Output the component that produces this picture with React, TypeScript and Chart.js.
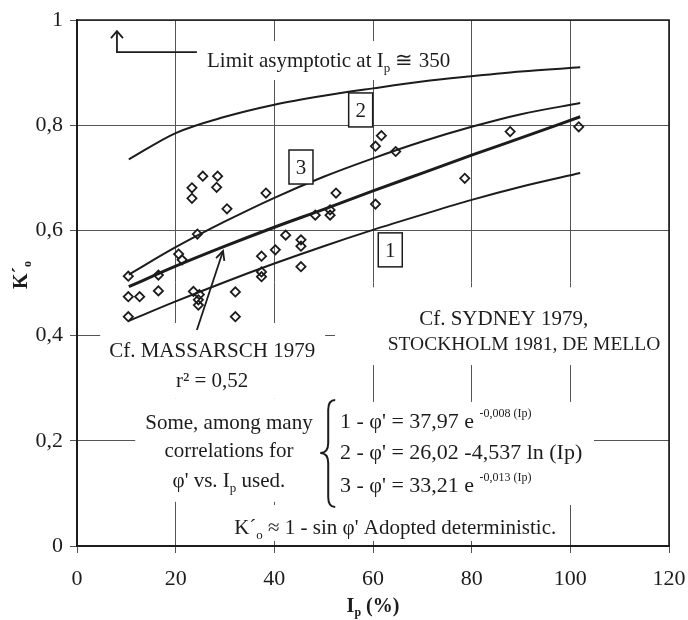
import React, { useEffect, useRef } from 'react';
import { Chart, registerables } from 'chart.js';
Chart.register(...registerables);

// ---- data ----
const pointsIp = [25.5, 28.5, 28.3, 23.3, 23.3, 30.4, 24.4, 20.6, 21.3, 10.4, 16.5, 16.5, 10.4, 12.7, 23.6, 24.8, 24.6, 24.6, 10.4, 32.1, 32.1,
  38.3, 52.5, 48.3, 51.3, 51.3, 42.3, 45.4, 45.4, 40.2, 37.4, 37.4, 37.4, 45.4,
  61.7, 60.5, 64.6, 78.6, 60.5, 87.8, 101.7];
const pointsK = [0.703, 0.703, 0.682, 0.681, 0.661, 0.641, 0.593, 0.555, 0.544, 0.513, 0.515, 0.485, 0.474, 0.474, 0.484, 0.478, 0.468, 0.458, 0.436, 0.483, 0.436,
  0.671, 0.671, 0.629, 0.639, 0.629, 0.591, 0.582, 0.570, 0.563, 0.551, 0.521, 0.512, 0.531,
  0.780, 0.760, 0.750, 0.699, 0.650, 0.788, 0.797];

const lineIp = [10.5, 20, 30, 40, 50, 60, 70, 80, 90, 102];
const curve2K = [0.735, 0.785, 0.816, 0.839, 0.856, 0.870, 0.883, 0.893, 0.902, 0.910];
const curve3K = [0.516, 0.568, 0.617, 0.662, 0.702, 0.737, 0.769, 0.797, 0.821, 0.842];
const massarschK = [0.493, 0.532, 0.570, 0.606, 0.640, 0.675, 0.709, 0.743, 0.776, 0.816];
const curve1K = [0.428, 0.465, 0.502, 0.537, 0.570, 0.601, 0.630, 0.658, 0.683, 0.709];

const xTickLabels = ['0', '20', '40', '60', '80', '100', '120'];
const yTickLabels = ['0', '0,2', '0,4', '0,6', '0,8', '1'];

// ---- styling ----
const SERIF = '"Liberation Serif", "Times New Roman", serif';
const INK = '#1c1c1c';
const BASE = 21;

type Seg = { t: string; size?: number; dy?: number; bold?: boolean };

const segFont = (s: Seg, base: number, bold?: boolean) =>
  `${s.bold || bold ? 'bold ' : ''}${s.size ?? base}px ${SERIF}`;

function lineWidth(ctx: CanvasRenderingContext2D, segs: Seg[], base: number, bold?: boolean) {
  let w = 0;
  for (const s of segs) {
    ctx.font = segFont(s, base, bold);
    w += ctx.measureText(s.t).width;
  }
  return w;
}

function drawSegs(ctx: CanvasRenderingContext2D, segs: Seg[], x: number, cy: number, align: 'left' | 'center', base = BASE, bold?: boolean) {
  const w = lineWidth(ctx, segs, base, bold);
  let cx = align === 'center' ? x - w / 2 : x;
  const baseY = cy + base * 0.34;
  ctx.textAlign = 'left';
  ctx.textBaseline = 'alphabetic';
  for (const s of segs) {
    ctx.font = segFont(s, base, bold);
    ctx.fillText(s.t, cx, baseY + (s.dy ?? 0));
    cx += ctx.measureText(s.t).width;
  }
}

const sub = (t: string, base = BASE): Seg => ({ t, size: Math.round(base * 0.62), dy: base * 0.22 });
const sup = (t: string): Seg => ({ t, size: 12, dy: -11 });

// white areas behind the notes: [IpLeft, IpRight, Ktop, Kbottom]
const whiteouts: number[][] = [
  [25.0, 76.5, 0.960, 0.886],
  [4.7, 50.3, 0.424, 0.281],
  [52.3, 120, 0.492, 0.344],
  [11.8, 49.3, 0.281, 0.084],
  [48.9, 104.8, 0.274, 0.078],
  [29.4, 99.1, 0.078, 0.0095],
];

const annotPlugin = {
  id: 'notes',
  beforeDatasetsDraw(chart: any) {
    const { ctx, scales } = chart;
    const X = (v: number) => scales.x.getPixelForValue(v);
    const Y = (v: number) => scales.y.getPixelForValue(v);
    ctx.save();
    ctx.fillStyle = '#ffffff';
    for (const [a, b, t, bt] of whiteouts) {
      ctx.fillRect(X(a), Y(t), X(b) - X(a), Y(bt) - Y(t));
    }
    ctx.fillStyle = INK;
    ctx.strokeStyle = INK;

    // limit note
    drawSegs(ctx, [{ t: 'Limit asymptotic at I' }, sub('p'), { t: ' \u2245 350' }], X(26.35), Y(0.924), 'left');
    ctx.lineWidth = 1.8;
    ctx.beginPath();
    ctx.moveTo(X(24.3), Y(0.939));
    ctx.lineTo(X(8.1), Y(0.939));
    ctx.lineTo(X(8.1), Y(0.979));
    ctx.stroke();
    ctx.beginPath();
    ctx.moveTo(X(8.1) - 6, Y(0.979) + 7);
    ctx.lineTo(X(8.1), Y(0.979));
    ctx.lineTo(X(8.1) + 6, Y(0.979) + 7);
    ctx.stroke();

    // Massarsch note
    drawSegs(ctx, [{ t: 'Cf. MASSARSCH 1979' }], X(27.4), Y(0.3726), 'center');
    drawSegs(ctx, [{ t: 'r\u00b2 = 0,52' }], X(27.4), Y(0.3156), 'center');

    // Sydney note
    drawSegs(ctx, [{ t: 'Cf. SYDNEY 1979,' }], X(86.5), Y(0.4335), 'center');
    drawSegs(ctx, [{ t: 'STOCKHOLM 1981, DE MELLO' }], X(90.6), Y(0.386), 'center', 19.5);

    // correlations note
    drawSegs(ctx, [{ t: 'Some, among many' }], X(30.8), Y(0.2357), 'center');
    drawSegs(ctx, [{ t: 'correlations for' }], X(30.8), Y(0.1825), 'center');
    drawSegs(ctx, [{ t: "\u03c6' vs. I" }, sub('p'), { t: ' used.' }], X(30.8), Y(0.1255), 'center');

    // brace
    const xl = X(49.3), xm = xl + 8, xr = xl + 15;
    const top = Y(0.2776), mid = Y(0.1768), bot = Y(0.0741);
    ctx.lineWidth = 2;
    ctx.beginPath();
    ctx.moveTo(xr, top);
    ctx.quadraticCurveTo(xm, top, xm, top + 10);
    ctx.lineTo(xm, mid - 10);
    ctx.quadraticCurveTo(xm, mid, xl, mid);
    ctx.quadraticCurveTo(xm, mid, xm, mid + 10);
    ctx.lineTo(xm, bot - 10);
    ctx.quadraticCurveTo(xm, bot, xr, bot);
    ctx.stroke();

    // equations
    drawSegs(ctx, [{ t: "1 - \u03c6' = 37,97 e " }, sup('-0,008 (Ip)')], X(53.3), Y(0.2395), 'left', 22);
    drawSegs(ctx, [{ t: "2 - \u03c6' = 26,02 -4,537 ln (Ip)" }], X(53.3), Y(0.1787), 'left', 22);
    drawSegs(ctx, [{ t: "3 - \u03c6' = 33,21 e " }, sup('-0,013 (Ip)')], X(53.3), Y(0.116), 'left', 22);

    // adopted
    drawSegs(ctx, [{ t: 'K\u00b4' }, sub('o'), { t: " \u2248 1 - sin \u03c6' Adopted deterministic." }], X(64.5), Y(0.0361), 'center');

    ctx.restore();
  },
  afterDatasetsDraw(chart: any) {
    const { ctx, scales, chartArea } = chart;
    const X = (v: number) => scales.x.getPixelForValue(v);
    const Y = (v: number) => scales.y.getPixelForValue(v);
    ctx.save();
    ctx.strokeStyle = INK;
    ctx.fillStyle = INK;
    // frame top/right
    ctx.lineWidth = 1.6;
    ctx.beginPath();
    ctx.moveTo(chartArea.left, chartArea.top);
    ctx.lineTo(chartArea.right, chartArea.top);
    ctx.lineTo(chartArea.right, chartArea.bottom);
    ctx.stroke();

    // numbered boxes
    const boxes: [string, number, number][] = [['2', 57.5, 0.829], ['3', 45.4, 0.7205], ['1', 63.5, 0.563]];
    for (const [txt, ip, k] of boxes) {
      const cx = X(ip), cy = Y(k);
      ctx.fillStyle = '#ffffff';
      ctx.fillRect(cx - 12, cy - 17, 24, 34);
      ctx.lineWidth = 1.5;
      ctx.strokeRect(cx - 12, cy - 17, 24, 34);
      ctx.fillStyle = INK;
      drawSegs(ctx, [{ t: txt }], cx, cy, 'center');
    }

    // Massarsch arrow
    const tx = X(29.6), ty = Y(0.5608), fx = X(24.3), fy = Y(0.4106);
    ctx.lineWidth = 1.8;
    ctx.beginPath();
    ctx.moveTo(fx, fy);
    ctx.lineTo(tx, ty);
    ctx.stroke();
    const ang = Math.atan2(ty - fy, tx - fx);
    ctx.beginPath();
    ctx.moveTo(tx - 10 * Math.cos(ang - 0.45), ty - 10 * Math.sin(ang - 0.45));
    ctx.lineTo(tx, ty);
    ctx.lineTo(tx - 10 * Math.cos(ang + 0.45), ty - 10 * Math.sin(ang + 0.45));
    ctx.stroke();

    // axis titles
    drawSegs(ctx, [{ t: 'I' }, sub('p', 20), { t: ' (%)' }], (chartArea.left + chartArea.right) / 2, 605, 'center', 20, true);
    ctx.translate(20, 275);
    ctx.rotate(-Math.PI / 2);
    drawSegs(ctx, [{ t: 'K\u00b4' }, sub('o', 20)], 0, 0, 'center', 20, true);
    ctx.restore();
  },
};

const lineDs = (data: number[], width: number) => ({
  type: 'line' as const,
  data: lineIp.map((x, i) => ({ x, y: data[i] })),
  borderColor: INK,
  borderWidth: width,
  pointRadius: 0,
  showLine: true,
  fill: false,
  cubicInterpolationMode: 'monotone' as const,
});

export default function App() {
  const ref = useRef<HTMLCanvasElement>(null);
  useEffect(() => {
    document.body.style.margin = '0';
    Chart.defaults.font.family = SERIF;
    const chart = new Chart(ref.current as HTMLCanvasElement, {
      type: 'scatter',
      data: {
        datasets: [
          lineDs(curve2K, 2),
          lineDs(curve3K, 2),
          lineDs(massarschK, 3),
          lineDs(curve1K, 2),
          {
            type: 'scatter',
            data: pointsIp.map((x, i) => ({ x, y: pointsK[i] })),
            pointStyle: 'rectRot',
            pointRadius: 4.6,
            borderColor: INK,
            borderWidth: 1.8,
            backgroundColor: 'rgba(255,255,255,0)',
          },
        ] as any,
      },
      options: {
        responsive: false,
        animation: false,
        layout: { padding: { top: 20, right: 19, left: 0, bottom: 0 } },
        plugins: { legend: { display: false }, tooltip: { enabled: false } },
        scales: {
          x: {
            type: 'linear',
            min: 0,
            max: 120,
            afterFit: (s: any) => { s.height = 74; s.paddingLeft = 0; s.paddingRight = 0; },
            ticks: {
              stepSize: 20,
              padding: 13,
              color: INK,
              font: { family: SERIF, size: 22 },
              callback: (v: any) => xTickLabels[Math.round(Number(v) / 20)] ?? '',
            },
            grid: { color: '#555', lineWidth: 1, tickLength: 7, drawTicks: true },
            border: { color: INK, width: 2 },
          },
          y: {
            type: 'linear',
            min: 0,
            max: 1,
            afterFit: (s: any) => { s.width = 77; s.paddingTop = 0; s.paddingBottom = 0; },
            ticks: {
              stepSize: 0.2,
              padding: 7,
              color: INK,
              font: { family: SERIF, size: 22 },
              callback: (v: any) => yTickLabels[Math.round(Number(v) / 0.2)] ?? '',
            },
            grid: { color: '#555', lineWidth: 1, tickLength: 7, drawTicks: true },
            border: { color: INK, width: 2 },
          },
        },
      },
      plugins: [annotPlugin],
    });
    return () => chart.destroy();
  }, []);
  return (
    <div style={{ width: 688, height: 620, background: '#fff' }}>
      <canvas ref={ref} width={688} height={620} style={{ display: 'block', width: 688, height: 620 }} />
    </div>
  );
}
